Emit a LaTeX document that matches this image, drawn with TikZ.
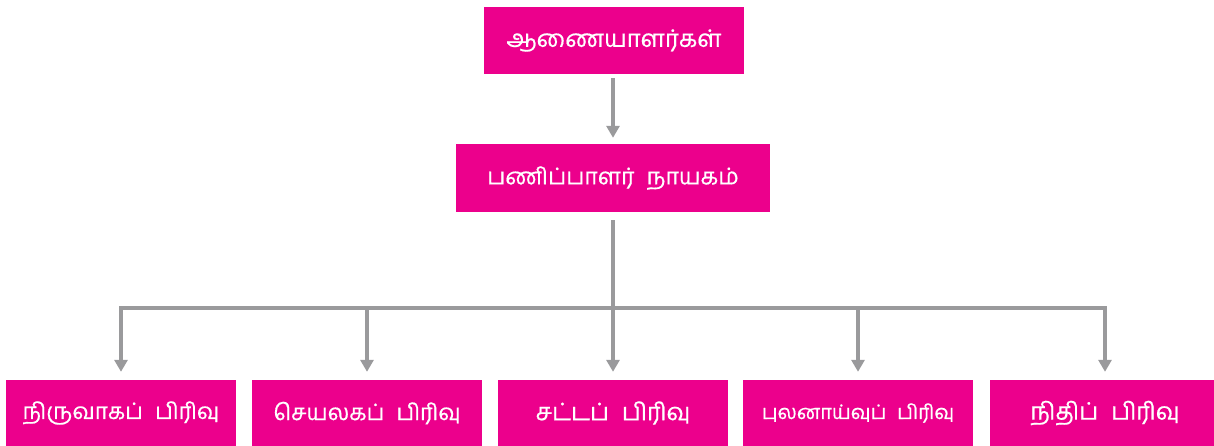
\documentclass[tikz,border=0pt]{standalone}
\usepackage{fontspec}
\newfontfamily\tamil[Script=Tamil,WordSpace=2.2,FakeBold=0.6]{Hind Madurai}
\usetikzlibrary{arrows.meta}
\definecolor{boxpink}{HTML}{EC008C}
\definecolor{linegray}{HTML}{9A9A9C}
\begin{document}
\begin{tikzpicture}[x=1pt,y=-1pt,
  orgbox/.style={fill=boxpink,draw=none,text=white,font=\tamil\fontsize{24}{28}\selectfont,inner sep=0pt},
  conn/.style={draw=linegray,line width=3.2pt},
  arr/.style={conn,-{Triangle[length=12pt,width=13pt]}}]
\useasboundingbox (0,0) rectangle (1214,445);
\node[orgbox,minimum width=260pt,minimum height=67pt] (top) at (614,40.5) {ஆணையாளர்கள்};
\node[orgbox,minimum width=314pt,minimum height=68pt,font=\tamil\fontsize{23}{28}\selectfont] (dg) at (613,178) {பணிப்பாளர் நாயகம்};
\node[orgbox,minimum width=230pt,minimum height=66pt,font=\tamil\fontsize{22.5}{28}\selectfont] (b1) at (121,413) {நிருவாகப் பிரிவு};
\node[orgbox,minimum width=230pt,minimum height=66pt,font=\tamil\fontsize{22.5}{28}\selectfont] (b2) at (367,413) {செயலகப் பிரிவு};
\node[orgbox,minimum width=230pt,minimum height=66pt] (b3) at (613,413) {சட்டப் பிரிவு};
\node[orgbox,minimum width=230pt,minimum height=66pt,font=\tamil\fontsize{20}{25}\selectfont] (b4) at (858,413) {புலனாய்வுப் பிரிவு};
\node[orgbox,minimum width=230pt,minimum height=66pt] (b5) at (1105,413) {நிதிப் பிரிவு};
\coordinate (hub) at (613,308);
\draw[arr] ([yshift=-4pt]top.south -| 613,0) -- ([yshift=6pt]dg.north);
\draw[conn] ([yshift=-8pt]dg.south) -- (hub);
\draw[conn] ([xshift=-1.6pt]b1.north |- hub) -- ([xshift=1.6pt]b5.north |- hub);
\foreach \b in {b1,b2,b3,b4,b5}{
  \draw[arr] (\b.north |- hub) -- ([yshift=8pt]\b.north);
}
\end{tikzpicture}
\end{document}
